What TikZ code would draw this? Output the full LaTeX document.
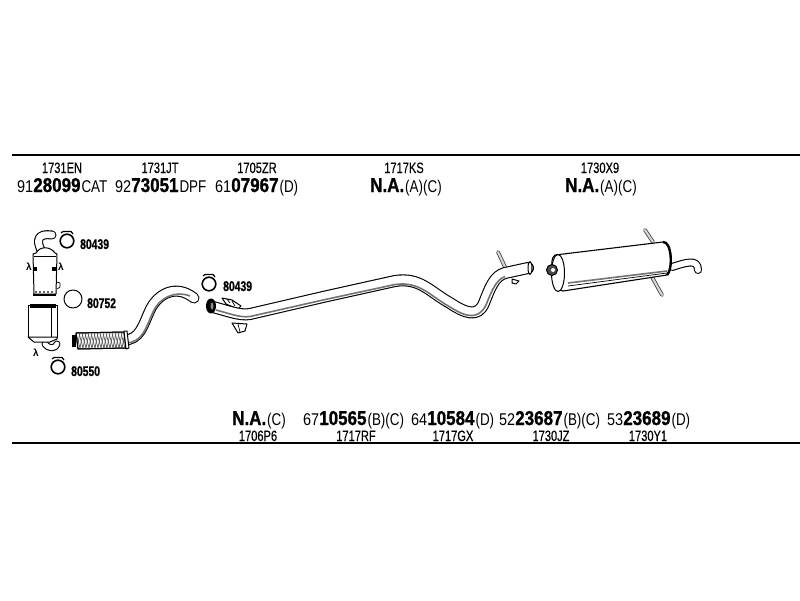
\documentclass[tikz,border=0pt]{standalone}
\usepackage{xcolor}
\usepackage{fontspec}
\setmainfont{Liberation Sans}
\newfontfamily\wideface[FakeStretch=0.85,BoldFeatures={FakeBold=1}]{Liberation Sans}
\newfontfamily\midface[FakeStretch=0.79]{Liberation Sans}
\newfontfamily\slimface[FakeStretch=0.74,FakeBold=0.3,BoldFeatures={FakeBold=0.8}]{Liberation Sans}
\newcommand{\ordernr}[3]{{\wideface\fontsize{17}{17}\selectfont #1{\bfseries\fontsize{20}{20}\selectfont #2}\kern1pt{\midface\fontsize{17}{17}\selectfont #3}}}
\begin{document}
\begin{tikzpicture}[
		    x=1pt, y=-1pt,
		    every node/.style={inner sep=0pt, anchor=base},
		    line join=round
		]
		\tikzset{
		    rule/.style={line width=2pt, black},
		    codigo/.style={font=\slimface\fontsize{15}{15}\selectfont},
		    ordem/.style={anchor=base west},
		    clampnr/.style={anchor=base west, font=\slimface\bfseries\fontsize{14}{14}\selectfont},
		    outline/.style={draw=black, line width=1pt, fill=white},
		    thin part/.style={draw=black, line width=0.7pt},
		    clampring/.style={draw=black, line width=1.6pt},
		    clamptab/.style={draw=black, line width=1.2pt},
		    tube/.style={draw=black, line width=#1, line cap=round, postaction={draw=white, line width=#1-2.2pt}},
		    stripe/.style={draw=black!55, line width=1.6pt},
		    hanger/.style={draw=black!70, line width=3.8pt, line cap=round, postaction={draw=black!15, line width=2pt}},
		    meshline/.style={draw=black!65, line width=0.7pt},
		    lambda/.style={anchor=center, font=\bfseries\fontsize{10}{10}\selectfont}
		}
		\useasboundingbox (0,0) rectangle (800,600);
		\fill[white] (0,0) rectangle (800,600);
		% top and bottom rules
		\draw[rule] (12,155) -- (800,155);
		\draw[rule] (12,443) -- (800,443);
		% upper labels
		\node[codigo] (codeEN) at (62,173) {1731EN};
		\node[codigo] (codeJT) at (160,173) {1731JT};
		\node[codigo] (codeZR) at (257,173) {1705ZR};
		\node[codigo] (codeKS) at (404,173) {1717KS};
		\node[codigo] (codeX) at (600,173) {1730X9};
		\node[ordem] (nrEN) at (17,192) {\ordernr{91}{28099}{CAT}};
		\node[ordem] (nrJT) at (115,192) {\ordernr{92}{73051}{DPF}};
		\node[ordem] (nrZR) at (215,192) {\ordernr{61}{07967}{(D)}};
		\node[ordem] (nrKS) at (370,192) {\ordernr{}{N.A.}{(A)(C)}};
		\node[ordem] (nrX) at (565,192) {\ordernr{}{N.A.}{(A)(C)}};
		% lower labels
		\node[ordem] (nrP) at (232,425) {\ordernr{}{N.A.}{(C)}};
		\node[ordem] (nrRF) at (303,425) {\ordernr{67}{10565}{(B)(C)}};
		\node[ordem] (nrGX) at (411,425) {\ordernr{64}{10584}{(D)}};
		\node[ordem] (nrJZ) at (499,425) {\ordernr{52}{23687}{(B)(C)}};
		\node[ordem] (nrY) at (607,425) {\ordernr{53}{23689}{(D)}};
		\node[codigo] (codeP) at (258,441) {1706P6};
		\node[codigo] (codeRF) at (356,441) {1717RF};
		\node[codigo] (codeGX) at (453,441) {1717GX};
		\node[codigo] (codeJZ) at (551,441) {1730JZ};
		\node[codigo] (codeY) at (648,441) {1730Y1};
		% clamps
		\draw[clampring] (67,241) circle (6.8);
		\draw[clamptab] (61,233) -- (63,231.5) -- (71,231.5) -- (73,234);
		\node[clampnr] (clampA) at (80,249) {80439};
		\draw[clampring, line width=1pt] (73,299) circle (9);
		\node[clampnr] (ringB) at (87,308) {80752};
		\draw[clampring] (58,367) circle (6.8);
		\draw[clamptab] (52,359) -- (54,357.5) -- (62,357.5) -- (64,360);
		\node[clampnr] (clampC) at (71,376) {80550};
		\draw[clampring] (209,284) circle (6.8);
		\draw[clamptab] (203,276) -- (205,274.5) -- (213,274.5) -- (215,277);
		\node[clampnr] (clampD) at (223,291) {80439};
		% upper catalyst
		\draw[tube=9pt] (41,250) .. controls (36,240) and (38,233) .. (52,235);
		\draw[outline] (36,253) .. controls (40,246) and (50,246) .. (55,253) -- (57,254) -- (56,294) -- (34,294) -- (33,254) -- cycle;
		\draw[thin part] (34,256) -- (56,256);
		\draw[thin part, line width=1.8pt] (33,295) -- (56,295);
		\draw[draw=black!60, line width=1.6pt, dash pattern=on 2pt off 2pt] (35,292) -- (55,292);
		\fill[black] (33,267) rectangle (37,271);
		\fill[black] (52,267) rectangle (56,271);
		\draw[thin part] (57,282) -- (60,283) -- (60,287) -- (57,289);
		\node[lambda] (lamA) at (29,267) {λ};
		\node[lambda] (lamB) at (61,267) {λ};
		% lower catalyst
		\draw[tube=7pt] (45,344) .. controls (48,349) and (56,349) .. (57,344);
		\draw[outline] (28,305) rectangle (57,337);
		\fill[black] (30,304) rectangle (56,308);
		\draw[outline] (28,337) -- (57,337) -- (57,339) -- (50,342) -- (34,342) -- cycle;
		\draw[thin part] (51,308) -- (51,337);
		\node[lambda] (lamC) at (36,353) {λ};
		% front pipe
		\draw[tube=11pt] (124,340) .. controls (140,340) and (143,325) .. (150,310)
		    .. controls (157,295) and (175,283) .. (194,298);
		\draw[stripe] (125,343) .. controls (143,343) and (146,327) .. (153,312)
		    .. controls (159,298) and (175,290) .. (190,296);
		\draw[outline] (76,333) -- (124,332) -- (126,348) -- (78,349) -- cycle;
		\foreach \i in {76,79,...,121}{
		    \draw[meshline] (\i+1,348) -- (\i+4,333);
		    \draw[meshline] (\i,333) -- (\i+4,348);
		}
		\draw[outline, fill=none] (76,333) -- (124,332) -- (126,348) -- (78,349) -- cycle;
		\draw[outline] (124,331) -- (127,331) -- (129,348) -- (126,349) -- cycle;
		\fill[black] (72,335) rectangle (76,347);
		% middle pipe
		\draw[outline] (222,298) -- (232,300) -- (241,306) -- (238,309) -- (226,304) -- cycle;
		\draw[thin part] (227,299) -- (230,303);
		\draw[thin part] (232,301) -- (235,306);
		\draw[outline] (232,323) -- (247,324) -- (245,331) -- (238,333) -- cycle;
		\draw[thin part] (238,324) -- (240,332);
		\draw[hanger] (498,252) -- (505,267);
		\draw[outline] (512,279) -- (519,281) -- (516,284) -- (512,283) -- cycle;
		\draw[tube=12pt] (213,307) .. controls (225,310) and (240,316) .. (250,314)
		    -- (323,297) -- (395,281)
		    .. controls (420,277) and (430,292) .. (450,303)
		    .. controls (465,313) and (478,318) .. (484,303)
		    .. controls (490,288) and (494,276) .. (505,273)
		    -- (528,268);
		\draw[stripe] (216,310) .. controls (228,313) and (240,318) .. (250,316.5)
		    -- (323,300) -- (395,284.5)
		    .. controls (420,281) and (430,296) .. (450,307)
		    .. controls (465,316.5) and (478,321) .. (486,305)
		    .. controls (492,290) and (496,280) .. (505,276.5);
		\draw[outline] (530,268) ellipse (2 and 6.5);
		\draw[outline, fill=black] (211,306) ellipse (4.5 and 7);
		\fill[black!45] (212,306) ellipse (1.5 and 3.5);
		% muffler
		\draw[hanger] (645,230) -- (653,242);
		\draw[hanger] (652,277) -- (662,295);
		\draw[tube=8pt] (672,267) .. controls (685,263) and (698,258) .. (698,270);
		\draw[outline, line width=1.1pt] (555,255) -- (663,242) .. controls (672,241) and (673,270) .. (667,275)
		    -- (563,291) .. controls (553,292) and (548,258) .. (555,255) -- cycle;
		\draw[draw=black, line width=2.4pt] (663,242) .. controls (672,241) and (673,270) .. (667,275);
		\draw[stripe] (568,283) -- (667,271);
		\draw[thin part] (568,286) -- (667,273);
		\draw[outline] (558,273) ellipse (6.5 and 18.5);
		\draw[outline, fill=black!70] (552,270) circle (5.5);
		\fill[white] (553,270) circle (2);
\end{tikzpicture}
\end{document}
